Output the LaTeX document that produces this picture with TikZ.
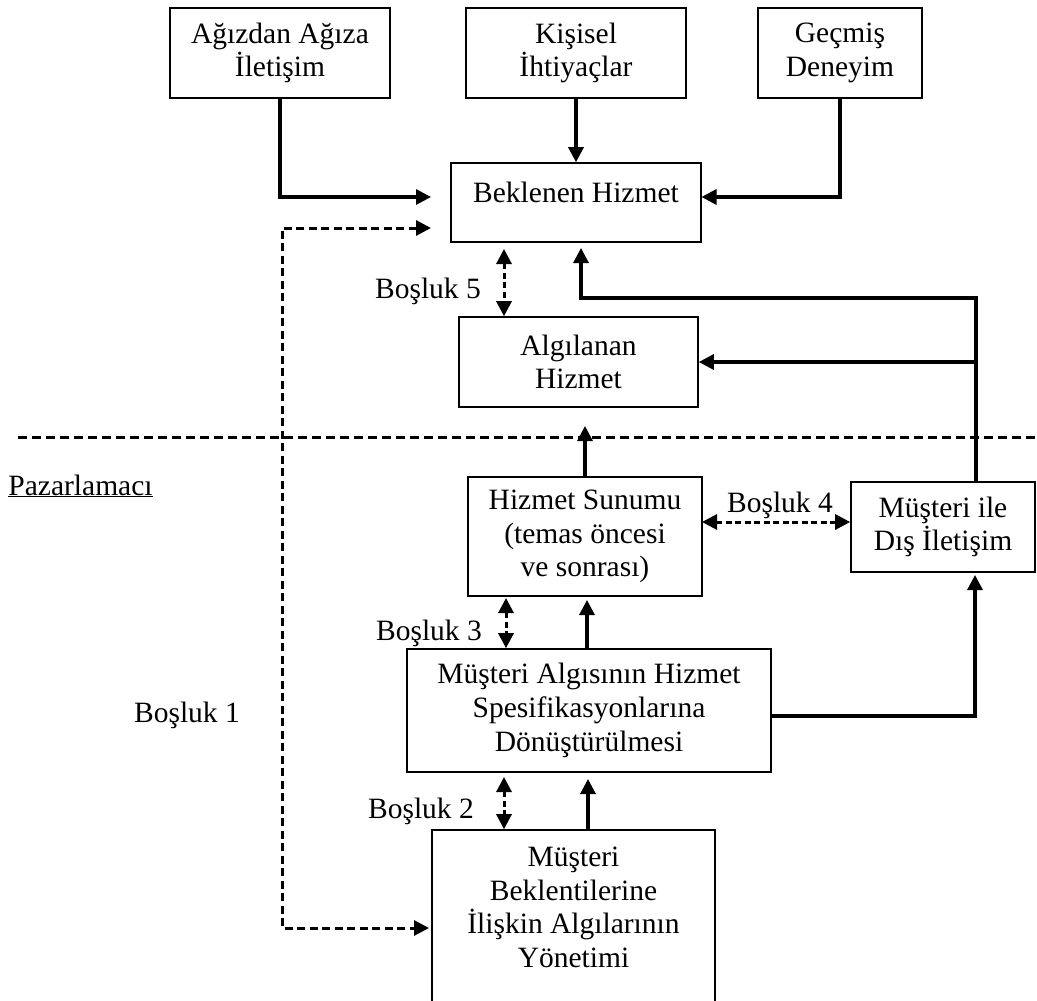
\documentclass[tikz,border=0pt]{standalone}
\usepackage{fontspec}
\setmainfont{Liberation Serif}
\usetikzlibrary{arrows.meta}
\begin{document}
\begin{tikzpicture}[x=1pt,y=-1pt,
  boxnode/.style={draw, line width=1.6pt, inner sep=0pt, align=center, font=\fontsize{29.5}{33.7}\selectfont},
  txt/.style={inner sep=0pt, align=center, font=\fontsize{29.5}{33.7}\selectfont},
  arr/.style={line width=3.2pt, -{Triangle[length=15pt,width=15pt]}},
  gaparr/.style={line width=3pt, dash pattern=on 6pt off 3.5pt, {Triangle[length=15pt,width=15pt]}-{Triangle[length=15pt,width=15pt]}},
  longdash/.style={line width=3pt, dash pattern=on 8pt off 4.5pt, {Triangle[length=15pt,width=15pt]}-{Triangle[length=15pt,width=15pt]}},
  sepline/.style={line width=3pt, dash pattern=on 9pt off 5pt}]
\useasboundingbox (0,0) rectangle (1037,1001);

% boxes
\node[boxnode, minimum width=220, minimum height=90] (agiz) at (280,53) {Ağızdan Ağıza\\İletişim};
\node[boxnode, minimum width=220, minimum height=90] (kisi) at (576,53) {Kişisel\\İhtiyaçlar};
\node[boxnode, minimum width=164, minimum height=90] (gecm) at (840,53) {Geçmiş\\Deneyim};
\node[boxnode, minimum width=250, minimum height=79] (bek) at (576,202.5) {};
\node[txt, anchor=base] (bektxt) at (576,202) {Beklenen Hizmet};
\node[boxnode, minimum width=239, minimum height=90] (alg) at (578.5,362) {Algılanan\\Hizmet};
\node[boxnode, minimum width=234, minimum height=119] (sun) at (585,536.5) {Hizmet Sunumu\\(temas öncesi\\ve sonrası)};
\node[boxnode, minimum width=184, minimum height=90] (dis) at (943,527) {Müşteri ile\\Dış İletişim};
\node[boxnode, minimum width=364, minimum height=123] (spec) at (589,710.5) {Müşteri Algısının Hizmet\\Spesifikasyonlarına\\Dönüştürülmesi};
\node[boxnode, minimum width=283, minimum height=180] (yon) at (573.5,920) {};
\node[txt] (yontxt) at (573.5,907.5) {Müşteri\\Beklentilerine\\İlişkin Algılarının\\Yönetimi};

% labels
\node[txt, anchor=base] (b5) at (428,298) {Boşluk 5};
\node[txt, anchor=base] (b4) at (780,512) {Boşluk 4};
\node[txt, anchor=base] (b3) at (429,640) {Boşluk 3};
\node[txt, anchor=base] (b2) at (421,818) {Boşluk 2};
\node[txt, anchor=base] (b1) at (187,722) {Boşluk 1};
\node[txt, anchor=base] (paz) at (80.5,495) {\underline{Pazarlamacı}};

% coordinates
\coordinate (aIn) at (431,197);
\coordinate (gIn) at (701.5,197);
\coordinate (bIn) at (431,228);
\coordinate (c1) at (282,228);
\coordinate (c2) at (282,928);
\coordinate (yIn) at (429,928);
\coordinate (g5) at (504,249);
\coordinate (r1) at (976,298);
\coordinate (bIn2) at (581,248);
\coordinate (r2) at (976,362);
\coordinate (s1) at (18,437);
\coordinate (s2) at (1037,437);
\coordinate (aUp) at (585,426);
\coordinate (g4) at (702,522);
\coordinate (g3) at (506,598);
\coordinate (sUp) at (587,600);
\coordinate (sR) at (771,716);
\coordinate (dIn) at (975,575);
\coordinate (g2) at (504,777);
\coordinate (yUp) at (588,779);

% connectors
\draw[arr] (agiz.south) |- (aIn);
\draw[arr] (kisi.south) -- (kisi.south |- bek.north);
\draw[arr] (gecm.south) |- (gIn);
\draw[longdash] (bIn) -- (c1) -- (c2) -- (yIn);
\draw[gaparr] (g5) -- (g5 |- alg.north);
\draw[arr] (r1 |- dis.north) -- (r1) -| (bIn2);
\draw[arr] (r2) -- (alg.east |- r2);
\draw[sepline] (s1) -- (s2);
\draw[arr] (sun.north) -- (aUp);
\draw[gaparr] (g4) -- (g4 -| dis.west);
\draw[gaparr] (g3) -- (g3 |- spec.north);
\draw[arr] (sUp |- spec.north) -- (sUp);
\draw[arr] (spec.east |- sR) -| (dIn);
\draw[gaparr] (g2) -- (g2 |- yon.north);
\draw[arr] (yUp |- yon.north) -- (yUp);
\end{tikzpicture}
\end{document}
